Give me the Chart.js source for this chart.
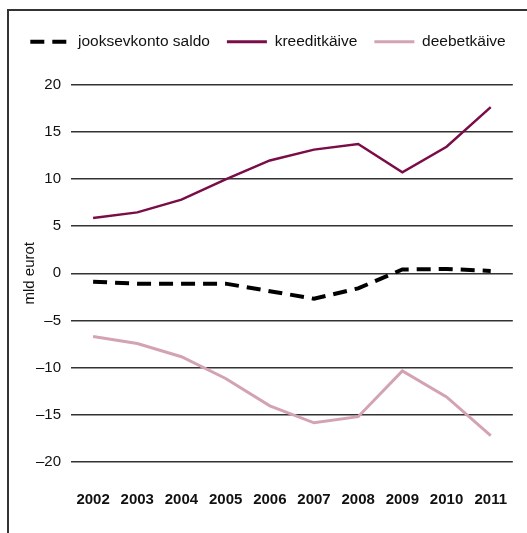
<!DOCTYPE html>
<html>
<head>
<meta charset="utf-8">
<script src="https://cdn.jsdelivr.net/npm/chart.js@4/dist/chart.umd.min.js"></script>
<style>
  html, body { margin: 0; padding: 0; background: #fff; }
  body { width: 527px; height: 533px; overflow: hidden; position: relative; }
  .frame { position: absolute; left: 7px; top: 9px; width: 540px; height: 540px;
           border-left: 2px solid #333; border-top: 2px solid #333; }
  .box { position: absolute; left: 9px; top: 11px; width: 518px; height: 522px; }
</style>
</head>
<body>
<div class="frame"></div>
<div class="box"><canvas id="chart"></canvas></div>
<script>
// andmed (mld eurot)
const years = ['2002', '2003', '2004', '2005', '2006', '2007', '2008', '2009', '2010', '2011'];
const saldo = [-0.9, -1.1, -1.1, -1.1, -1.9, -2.7, -1.6, 0.4, 0.45, 0.25];
const kreedit = [5.85, 6.45, 7.8, 9.95, 11.95, 13.1, 13.7, 10.7, 13.4, 17.6];
const deebet = [-6.7, -7.45, -8.85, -11.15, -14.05, -15.85, -15.2, -10.35, -13.1, -17.2];
const yTickValues = [-20, -15, -10, -5, 0, 5, 10, 15, 20];

Chart.defaults.font.family = '"Liberation Sans", Arial, sans-serif';
Chart.defaults.color = '#111';

// extra room under the legend
const legendMargin = {
    id: 'legendMargin',
    beforeInit(chart) {
        const fit = chart.legend.fit;
        chart.legend.fit = function () {
            fit.bind(chart.legend)();
            this.height += 25;
        };
    }
};

const ctx = document.getElementById('chart').getContext('2d');
new Chart(ctx, {
    type: 'line',
    data: {
        labels: years,
        datasets: [{
            label: 'jooksevkonto saldo',
            data: saldo,
            borderColor: '#000',
            backgroundColor: '#000',
            borderWidth: 4,
            borderDash: [14, 8],
            pointRadius: 0,
            tension: 0
        }, {
            label: 'kreeditkäive',
            data: kreedit,
            borderColor: '#7a0c48',
            backgroundColor: '#7a0c48',
            borderWidth: 2.5,
            pointRadius: 0,
            tension: 0
        }, {
            label: 'deebetkäive',
            data: deebet,
            borderColor: '#d3a3b4',
            backgroundColor: '#d3a3b4',
            borderWidth: 3,
            pointRadius: 0,
            tension: 0
        }]
    },
    options: {
        responsive: true,
        maintainAspectRatio: false,
        animation: false,
        layout: { padding: { top: 6, right: 0, left: 0, bottom: 0 } },
        plugins: {
            tooltip: { enabled: false },
            legend: {
                position: 'top',
                labels: {
                    usePointStyle: true,
                    pointStyle: 'line',
                    pointStyleWidth: 40,
                    boxWidth: 40,
                    padding: 17,
                    color: '#111',
                    font: { size: 15.5 },
                    generateLabels(chart) {
                        return chart.data.datasets.map((ds, i) => ({
                            text: ds.label,
                            datasetIndex: i,
                            pointStyle: 'line',
                            strokeStyle: ds.borderColor,
                            fillStyle: ds.borderColor,
                            lineWidth: ds.borderWidth === 2.5 ? 3 : ds.borderWidth,
                            lineDash: ds.borderDash || [],
                            fontColor: '#111',
                            hidden: false
                        }));
                    }
                }
            }
        },
        scales: {
            x: {
                offset: true,
                grid: { display: false, drawTicks: false },
                border: { display: false },
                ticks: { padding: 20, color: '#111', font: { size: 15, weight: 'bold', lineHeight: 2.4 } },
                afterFit(scale) { scale.height = 71; }
            },
            y: {
                min: -20,
                max: 20,
                afterBuildTicks(scale) { scale.ticks = yTickValues.map(v => ({ value: v })); },
                grid: { color: '#333', lineWidth: 1.5, drawTicks: false },
                border: { display: false },
                ticks: {
                    padding: 10,
                    color: '#111',
                    font: { size: 15 },
                    callback: v => (v < 0 ? '\u2013' + Math.abs(v) : String(v))
                },
                title: {
                    display: true,
                    text: 'mld eurot',
                    color: '#111',
                    font: { size: 15 },
                    padding: { top: 12, bottom: 0 }
                },
                afterFit(scale) { scale.width = 62; }
            }
        }
    },
    plugins: [legendMargin]
});
</script>
</body>
</html>
